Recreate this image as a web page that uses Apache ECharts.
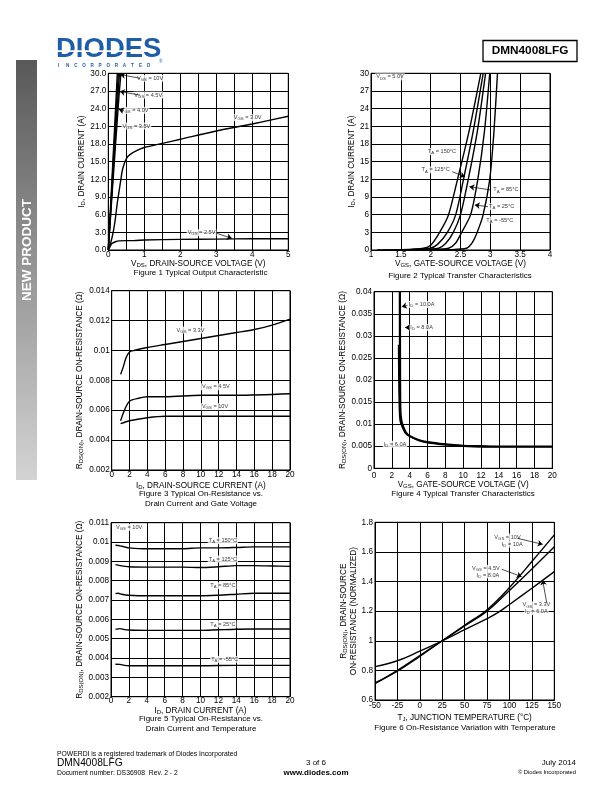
<!DOCTYPE html>
<html><head><meta charset="utf-8">
<script src="https://cdn.jsdelivr.net/npm/echarts@6/dist/echarts.min.js"></script>
<style>html,body{margin:0;padding:0;background:#fff}#c{width:612px;height:792px}</style>
</head><body><div id="c"></div>
<script>
const FONT = '"Liberation Sans", Arial, sans-serif';

// ---------- Figure 1: Typical Output Characteristic (VDS V, ID A)
const f1_vgs10 = [[0,0],[0.1,11.8],[0.2,23.8],[0.25,30]];
const f1_vgs45 = [[0,0],[0.1,10.8],[0.2,21.6],[0.28,30]];
const f1_vgs40 = [[0,0],[0.1,9.8],[0.2,19.6],[0.31,30]];
const f1_vgs35 = [[0,0],[0.1,9.0],[0.2,17.8],[0.3,26.4],[0.35,30]];
const f1_vgs30 = [[0,0],[0.05,0.8],[0.1,2],[0.15,3.5],[0.2,5.5],[0.25,8],[0.3,10],[0.35,12],[0.4,13.8],[0.5,15.5],[0.6,16.2],[0.8,16.9],[1,17.4],[1.5,18.1],[2,18.8],[3,20.2],[4,21.4],[5,22.7]];
const f1_vgs25 = [[0,0],[0.05,0.6],[0.1,1.1],[0.2,1.4],[0.3,1.55],[0.5,1.6],[0.7,1.6],[1,1.7],[2,1.8],[3,1.85],[4,1.9],[5,1.9]];
const notes1 = [[1.16,29.15,'V_{GS} = 10V'],[1.11,26.3,'V_{GS} = 4.5V'],[0.73,23.7,'V_{GS} = 4.0V'],[0.78,21.05,'V_{GS} = 3.5V'],[3.87,22.46,'V_{GS} = 3.0V'],[2.59,2.94,'V_{GS} = 2.5V']];
const arrows1 = [[0.88,29.15,0.33,29.8],[0.88,26.3,0.32,26.9],[0.42,23.65,0.29,23.9],[3.01,2.83,3.43,1.98]];

// ---------- Figure 2: Typical Transfer Characteristics (VGS V, ID A)
const f2_t150 = [[1.1,0],[1.5,0.05],[1.88,0.3],[2.0,0.8],[2.15,3],[2.3,6],[2.45,12],[2.64,20],[2.84,30]];
const f2_t125 = [[1.2,0],[1.6,0.05],[1.99,0.3],[2.12,1],[2.28,3],[2.42,6],[2.55,12],[2.71,20],[2.88,30]];
const f2_t85  = [[1.4,0],[1.8,0.05],[2.13,0.3],[2.25,1.1],[2.38,3],[2.5,6],[2.63,12],[2.78,20],[2.92,30]];
const f2_t25  = [[1.6,0],[2.0,0.05],[2.3,0.3],[2.42,1.2],[2.52,3],[2.67,6],[2.79,12],[2.9,20],[2.99,30]];
const f2_tm55 = [[2.0,0],[2.3,0.05],[2.6,0.3],[2.7,1.3],[2.78,3],[2.88,6],[2.99,12],[3.06,20],[3.12,30]];
const notes2 = [[1.07,29.4,'V_{DS} = 5.0V','left'],[2.19,16.7,'T_{A} = 150°C'],[2.085,13.6,'T_{A} = 125°C'],[3.26,10.2,'T_{A} = 85°C'],[3.19,7.36,'T_{A} = 25°C'],[3.16,5.09,'T_{A} = -55°C']];
const arrows2 = [[2.36,13.3,2.575,12.45],[3.0,10.2,2.65,10.75],[2.96,7.36,2.74,7.64]];

// ---------- Figure 3: On-Resistance vs Drain Current and Gate Voltage
const f3_vgs33 = [[1,0.0084],[1.3,0.0089],[1.6,0.0095],[2,0.0099],[2.5,0.0100],[4,0.0102],[6,0.0104],[8,0.0106],[10,0.0108],[12,0.0110],[14,0.0112],[16,0.0114],[18,0.0117],[20,0.0121]];
const f3_vgs45 = [[1,0.0053],[1.5,0.0061],[2,0.0066],[3,0.0068],[4,0.0069],[6,0.0069],[10,0.0070],[14,0.0070],[20,0.0071]];
const f3_vgs10 = [[1,0.0051],[2,0.0053],[4,0.0055],[6,0.0056],[10,0.0056],[20,0.0056]];
const notes3 = [[8.84,0.01137,'V_{GS} = 3.3V'],[11.68,0.00757,'V_{GS} = 4.5V'],[11.59,0.00624,'V_{GS} = 10V']];

// ---------- Figure 4: On-Resistance vs Gate-Source Voltage
const f4_id10 = [[2.95,0.04],[2.97,0.02],[3.0,0.0135],[3.1,0.011],[3.3,0.0095],[3.6,0.0082],[4,0.0074],[5,0.0065],[6,0.006],[8,0.0055],[10,0.0052],[12,0.0051],[14,0.0050],[17,0.0050],[20,0.0050]];
const f4_id8  = [[2.85,0.04],[2.88,0.02],[2.92,0.013],[3.0,0.011],[3.2,0.0095],[3.5,0.0082],[4,0.0073],[5,0.0064],[6,0.0059],[8,0.0054],[10,0.0051],[14,0.0049],[20,0.0049]];
const f4_id6  = [[2.75,0.028],[2.78,0.02],[2.85,0.013],[2.95,0.0105],[3.2,0.0092],[3.5,0.008],[4,0.0072],[5,0.0063],[6,0.0058],[8,0.0053],[10,0.005],[14,0.0048],[20,0.0048]];
const notes4 = [[5.34,0.0371,'I_{D} = 10.0A'],[5.34,0.0319,'I_{D} = 8.0A'],[2.36,0.00545,'I_{D} = 6.0A']];
const arrows4 = [[3.75,0.0369,3.11,0.0366],[3.93,0.0319,3.48,0.0319]];

// ---------- Figure 5: On-Resistance vs Drain Current and Temperature
const f5_t150 = [[0.5,0.00983],[1,0.0098],[1.5,0.00975],[2,0.0097],[4,0.00965],[6,0.00965],[8,0.00965],[10,0.0097],[12,0.0097],[14,0.00972],[16,0.00975],[18,0.00975],[20,0.00975]];
const f5_t125 = [[0.5,0.00883],[1,0.00878],[2,0.00872],[4,0.0087],[6,0.0087],[8,0.0087],[10,0.00868],[12,0.00872],[14,0.00878],[16,0.00878],[18,0.00876],[20,0.00874]];
const f5_t85  = [[0.5,0.00733],[0.8,0.00735],[1.2,0.0073],[2,0.00725],[4,0.00722],[6,0.00722],[8,0.00722],[10,0.00722],[12,0.00725],[14,0.0073],[16,0.00735],[18,0.00735],[20,0.00735]];
const f5_t25  = [[0.5,0.00548],[1,0.00552],[1.5,0.00547],[2,0.00545],[4,0.00543],[6,0.00543],[8,0.00543],[10,0.00543],[12,0.00546],[14,0.00549],[16,0.0055],[18,0.0055],[20,0.0055]];
const f5_tm55 = [[0.5,0.00368],[1,0.00367],[1.5,0.00362],[2,0.0036],[4,0.0036],[6,0.0036],[10,0.0036],[14,0.00362],[20,0.00362]];
const notes5 = [[0.45,0.01076,'V_{GS} = 10V','left'],[12.5,0.01007,'T_{A} = 150°C'],[12.5,0.00912,'T_{A} = 125°C'],[12.5,0.00774,'T_{A} = 85°C'],[12.5,0.00576,'T_{A} = 25°C'],[12.7,0.00393,'T_{A} = -55°C']];

// ---------- Figure 6: On-Resistance Variation with Temperature
const f6_vgs10 = [[-50,0.715],[-25,0.795],[0,0.895],[25,1.0],[50,1.105],[75,1.21],[100,1.36],[125,1.535],[150,1.715]];
const f6_vgs45 = [[-50,0.71],[-25,0.80],[0,0.90],[25,1.0],[50,1.10],[75,1.20],[100,1.34],[125,1.485],[150,1.635]];
const f6_vgs33 = [[-50,0.825],[-25,0.865],[0,0.93],[25,1.0],[50,1.075],[75,1.15],[87,1.19],[100,1.245],[125,1.355],[150,1.467]];
const notes6 = [[97.8,1.70,'V_{GS} = 10V'],[103,1.653,'I_{D} = 10A'],[73.6,1.489,'V_{GS} = 4.5V'],[76,1.444,'I_{D} = 8.0A'],[130,1.242,'V_{GS} = 3.3V'],[130,1.196,'I_{D} = 6.0A']];
const arrows6 = [[108.8,1.692,137,1.651],[91.3,1.483,113.6,1.433],[141.5,1.257,137,1.41]];

// ---------- helpers
const sub = t => t.split(/(_\{[^}]*\})/).filter(Boolean)
  .map(p => p.startsWith('_{') ? '{s|' + p.slice(2, -1) + '}' : '{n|' + p + '}').join('');
const noteRich = {
  n: {fontSize: 5.6, fontFamily: FONT, color: '#000', lineHeight: 7},
  s: {fontSize: 4.3, fontFamily: FONT, color: '#000', lineHeight: 4, verticalAlign: 'bottom'}
};
const nameRich = {
  n: {fontSize: 8.2, fontFamily: FONT, color: '#000', lineHeight: 9.5},
  s: {fontSize: 6, fontFamily: FONT, color: '#000', lineHeight: 5, verticalAlign: 'bottom'}
};
const grids = [
  {left: 108.3, top: 73.3, width: 180, height: 176.7},
  {left: 371, top: 73.3, width: 179, height: 176.7},
  {left: 111.7, top: 290.7, width: 178.3, height: 179.3},
  {left: 374, top: 291.7, width: 178.3, height: 176.6},
  {left: 111, top: 522.7, width: 179, height: 174},
  {left: 375, top: 522.3, width: 179.3, height: 177.7}
].map(g => Object.assign({show: true, borderColor: '#000', borderWidth: 1, containLabel: false}, g));

function axis(i, min, max, interval, opts) {
  return Object.assign({
    type: 'value', gridIndex: i, min, max, interval,
    axisLine: {show: true, onZero: false, lineStyle: {color: '#000', width: 1}},
    axisTick: {show: false},
    splitLine: {show: true, lineStyle: {color: '#000', width: 1}},
    nameLocation: 'middle',
    nameTextStyle: {rich: nameRich},
  }, opts, {
    axisLabel: Object.assign({color: '#000', fontSize: 8.2, fontFamily: FONT, margin: 2,
      showMinLabel: true, showMaxLabel: true, hideOverlap: false}, (opts && opts.axisLabel) || {})
  });
}
const isInt = v => Math.abs(v - Math.round(v)) < 1e-9;
const xAxes = [
  axis(0, 0, 5, 0.5, {name: sub('V_{DS}, DRAIN-SOURCE VOLTAGE (V)'), nameGap: 9, axisLabel: {margin: 1, formatter: v => isInt(v) ? String(Math.round(v)) : ''}}),
  axis(1, 1, 4, 0.5, {name: sub('V_{GS}, GATE-SOURCE VOLTAGE (V)'), nameGap: 9, axisLabel: {margin: 1}}),
  axis(2, 0, 20, 2, {name: sub('I_{D}, DRAIN-SOURCE CURRENT (A)'), nameGap: 10.5, axisLabel: {margin: 1}}),
  axis(3, 0, 20, 2, {name: sub('V_{GS}, GATE-SOURCE VOLTAGE (V)'), nameGap: 12, axisLabel: {margin: 3}}),
  axis(4, 0, 20, 2, {name: sub('I_{D}, DRAIN CURRENT (A)'), nameGap: 9, axisLabel: {margin: 0}}),
  axis(5, -50, 150, 25, {name: sub('T_{J}, JUNCTION TEMPERATURE (°C)'), nameGap: 13, axisLabel: {margin: 2}})
];
const yAxes = [
  axis(0, 0, 30, 3, {name: sub('I_{D}, DRAIN CURRENT (A)'), nameGap: 21, axisLabel: {formatter: v => v.toFixed(1)}}),
  axis(1, 0, 30, 3, {name: sub('I_{D}, DRAIN CURRENT (A)'), nameGap: 14}),
  axis(2, 0.002, 0.014, 0.002, {name: sub('R_{DS(ON)}, DRAIN-SOURCE ON-RESISTANCE (Ω)'), nameGap: 27}),
  axis(3, 0, 0.04, 0.005, {name: sub('R_{DS(ON)}, DRAIN-SOURCE ON-RESISTANCE (Ω)'), nameGap: 27}),
  axis(4, 0.002, 0.011, 0.001, {name: sub('R_{DS(ON)}, DRAIN-SOURCE ON-RESISTANCE (Ω)'), nameGap: 26}),
  axis(5, 0.6, 1.8, 0.2, {name: sub('R_{DS(ON)}, DRAIN-SOURCE\nON-RESISTANCE (NORMALIZED)'), nameGap: 17})
];

const series = [];
function curve(i, data, smooth) {
  series.push({type: 'line', xAxisIndex: i, yAxisIndex: i, data, showSymbol: false, symbol: 'none',
    smooth: smooth === undefined ? 0.3 : smooth,
    lineStyle: {color: '#000', width: 1.4}, z: 3, silent: true});
}
function notes(i, list) {
  series.push({type: 'scatter', xAxisIndex: i, yAxisIndex: i, symbolSize: 1, z: 5, silent: true,
    itemStyle: {color: 'rgba(0,0,0,0)'},
    label: {show: true, position: 'inside', formatter: p => p.name, rich: noteRich,
      backgroundColor: '#fff', padding: [0, 1]},
    data: list.map(n => ({value: [n[0], n[1]], name: sub(n[2]), label: {align: n[3] || 'center'}}))});
}
function arrows(i, list) {
  series.push({type: 'lines', coordinateSystem: 'cartesian2d', xAxisIndex: i, yAxisIndex: i, z: 6, silent: true,
    symbol: ['none', 'arrow'], symbolSize: [4, 5],
    lineStyle: {color: '#000', width: 0.7, opacity: 1},
    data: list.map(a => ({coords: [[a[0], a[1]], [a[2], a[3]]]}))});
}
[f1_vgs10, f1_vgs45, f1_vgs40, f1_vgs35].forEach(d => curve(0, d, 0));
[f1_vgs30, f1_vgs25].forEach(d => curve(0, d));
notes(0, notes1); arrows(0, arrows1);
[f2_t150, f2_t125, f2_t85, f2_t25, f2_tm55].forEach(d => curve(1, d, 0.25));
notes(1, notes2); arrows(1, arrows2);
[f3_vgs33, f3_vgs45, f3_vgs10].forEach(d => curve(2, d));
notes(2, notes3);
[f4_id10, f4_id8, f4_id6].forEach(d => curve(3, d, 0.2));
notes(3, notes4); arrows(3, arrows4);
[f5_t150, f5_t125, f5_t85, f5_t25, f5_tm55].forEach(d => curve(4, d));
notes(4, notes5);
[f6_vgs10, f6_vgs45, f6_vgs33].forEach(d => curve(5, d, 0.4));
notes(5, notes6); arrows(5, arrows6);

// ---------- page graphics (header, side bar, captions, footer)
const txt = (x, y, text, size, opts) => Object.assign({type: 'text', x, y, silent: true,
  style: Object.assign({text, fontSize: size, fontFamily: FONT, fill: '#000', textAlign: 'left', textVerticalAlign: 'middle'}, (opts && opts.style) || {})},
  opts ? {rotation: opts.rotation || 0} : {});
const logoBlue = '#1f5da8';
const graphics = [
  txt(56, 49.5, 'DIODES', 27.5, {style: {fontWeight: 'bold', fill: logoBlue}}),
  {type: 'rect', silent: true, shape: {x: 56, y: 50.3, width: 92, height: 1.8}, style: {fill: '#fff'}},
  {type: 'rect', silent: true, shape: {x: 483, y: 40.5, width: 94, height: 21}, style: {fill: 'none', stroke: '#000', lineWidth: 1.3}},
  txt(530, 51, 'DMN4008LFG', 11.8, {style: {fontWeight: 'bold', textAlign: 'center'}}),
  {type: 'rect', silent: true, shape: {x: 16, y: 60, width: 21, height: 420},
    style: {fill: new echarts.graphic.LinearGradient(0, 0, 0, 1, [{offset: 0, color: '#595959'}, {offset: 1, color: '#d3d3d3'}])}},
  txt(27, 250, 'NEW PRODUCT', 13.5, {rotation: Math.PI / 2, style: {fontWeight: 'bold', fill: '#fff', textAlign: 'center'}}),
  txt(200.5, 272.5, 'Figure 1 Typical Output Characteristic', 8, {style: {textAlign: 'center'}}),
  txt(460, 276, 'Figure 2 Typical Transfer Characteristics', 8, {style: {textAlign: 'center'}}),
  txt(201, 494, 'Figure 3 Typical On-Resistance vs.', 8, {style: {textAlign: 'center'}}),
  txt(201, 503.5, 'Drain Current and Gate Voltage', 8, {style: {textAlign: 'center'}}),
  txt(463, 494, 'Figure 4 Typical Transfer Characteristics', 8, {style: {textAlign: 'center'}}),
  txt(201, 719, 'Figure 5 Typical On-Resistance vs.', 8, {style: {textAlign: 'center'}}),
  txt(201, 728.5, 'Drain Current and Temperature', 8, {style: {textAlign: 'center'}}),
  txt(465, 728, 'Figure 6 On-Resistance Variation with Temperature', 8, {style: {textAlign: 'center'}}),
  txt(57, 754, 'POWERDI is a registered trademark of Diodes Incorporated', 6.8),
  txt(57, 763.5, 'DMN4008LFG', 10.2),
  txt(57, 773, 'Document number: DS36908  Rev. 2 - 2', 6.8),
  txt(316, 763, '3 of 6', 8, {style: {textAlign: 'center'}}),
  txt(316, 773, 'www.diodes.com', 8, {style: {textAlign: 'center', fontWeight: 'bold'}}),
  txt(576, 763, 'July 2014', 8, {style: {textAlign: 'right'}}),
  txt(576, 772.5, '© Diodes Incorporated', 5.8, {style: {textAlign: 'right'}}),
  txt(159, 62, '®', 4.5, {style: {fill: logoBlue}})
];
'INCORPORATED'.split('').forEach((ch, k) => graphics.push(txt(58 + k * 8.1, 65.5, ch, 4.6, {style: {fontWeight: 'bold', fill: logoBlue}})));

const chart = echarts.init(document.getElementById('c'), null, {renderer: 'canvas'});
chart.setOption({
  animation: false,
  backgroundColor: '#fff',
  textStyle: {fontFamily: FONT},
  grid: grids, xAxis: xAxes, yAxis: yAxes, series,
  graphic: {elements: graphics}
});
</script></body></html>
